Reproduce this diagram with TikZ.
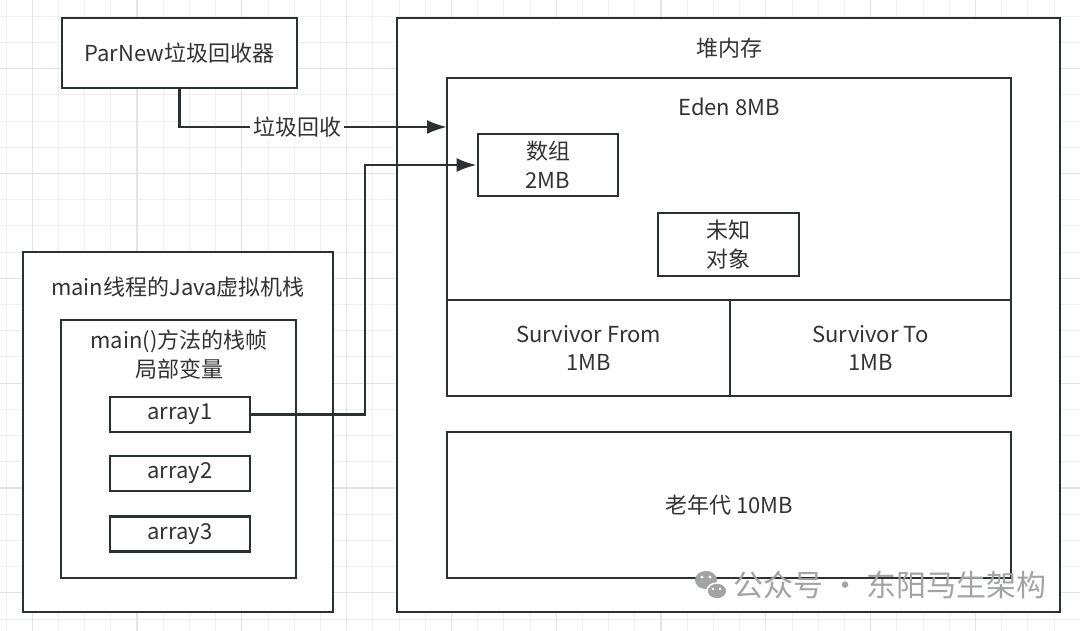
\documentclass[tikz,border=0pt]{standalone}
\usepackage{fontspec}
\setmainfont{Noto Sans CJK SC}
\usepackage{xcolor}
\usepackage{tikz}
\usetikzlibrary{calc}
\usetikzlibrary{arrows.meta}
\tikzset{>={Latex[length=20pt,width=14pt]}}
\definecolor{ink}{HTML}{2B3033}
\definecolor{txt}{HTML}{333333}
\definecolor{gridminor}{HTML}{EFEFEF}
\definecolor{gridmajor}{HTML}{E3E3E3}
\definecolor{wmark}{HTML}{A3A3A3}

\begin{document}
\begin{tikzpicture}[x=1pt,y=-1pt,
	font=\fontsize{22}{28.5}\selectfont,
	box/.style={draw=ink,line width=2.8pt,fill=white,text=txt,align=center,inner sep=0pt},
	title/.style={text=txt,inner sep=0pt,align=center},
	conn/.style={draw=ink,line width=2.5pt}]
	\useasboundingbox (0,0) rectangle (1080,631);
	\fill[white] (0,0) rectangle (1080,631);
	% grid
	\foreach \i in {0,...,41} {
		\draw[gridminor,line width=1pt] (6+26.2*\i,0) -- (6+26.2*\i,631);
	}
	\foreach \j in {0,...,23} {
		\draw[gridminor,line width=1pt] (0,16.4+26.2*\j) -- (1080,16.4+26.2*\j);
	}
	\foreach \i in {0,...,10} {
		\draw[gridmajor,line width=1.3pt] (32.2+104.8*\i,0) -- (32.2+104.8*\i,631);
	}
	\foreach \j in {0,...,5} {
		\draw[gridmajor,line width=1.3pt] (0,68.8+104.8*\j) -- (1080,68.8+104.8*\j);
	}
	% collector
	\node[box,minimum width=235,minimum height=70] (parnew) at (179.5,53) {ParNew垃圾回收器};
	% java stack
	\node[box,minimum width=310,minimum height=360] (stack) at (178,432) {};
	\node[title] (stacktitle) at (178,287) {main线程的Java虚拟机栈};
	\node[box,minimum width=235,minimum height=258] (frame) at (178.5,449) {};
	\node[title] (frametitle) at (179,354.5) {main()方法的栈帧\\局部变量};
	\node[box,minimum width=140,minimum height=35] (array1) at (180,414.5) {array1};
	\node[box,minimum width=140,minimum height=35] (array2) at (180,473.5) {array2};
	\node[box,minimum width=140,minimum height=35] (array3) at (180,534) {array3};
	% heap
	\node[box,minimum width=663,minimum height=594] (heap) at (728.5,315) {};
	\node[title] (heaptitle) at (729,48) {堆内存};
	\node[box,minimum width=564,minimum height=222] (eden) at (729,189) {};
	\node[title] (edentitle) at (729,107) {Eden 8MB};
	\node[box,minimum width=140,minimum height=62] (arrblk) at (548,165) {数组\\2MB};
	\node[box,minimum width=141,minimum height=63] (unknown) at (728.5,244.5) {未知\\对象};
	\node[box,minimum width=283,minimum height=96] (sfrom) at (588.5,348) {Survivor From\\1MB};
	\node[box,minimum width=281,minimum height=96] (sto) at (870.5,348) {Survivor To\\1MB};
	\node[box,minimum width=564,minimum height=146] (old) at (729,505) {老年代 10MB};
	% connectors
	\coordinate (gcin) at (447,127);
	\coordinate (bend) at (365,165);
	\draw[conn,->] (parnew.south) |- node[pos=0.72,fill=white,text=txt,inner sep=3pt]{垃圾回收} (gcin);
	\draw[conn,->] (array1.east) -| (bend) -- (arrblk);
	% watermark
	\fill[wmark] (706,580) ellipse (11 and 9);
	\draw[white,line width=1.5pt,fill=wmark] (717,591) ellipse (10 and 8);
	\fill[white] (702,577) circle (1.6) (710,577) circle (1.6) (713,589) circle (1.4) (720,589) circle (1.4);
	\node[text=wmark,inner sep=0pt,font=\fontsize{30}{32}\selectfont] (wmtext) at (890,585) {公众号 · 东阳马生架构};
\end{tikzpicture}
\end{document}
